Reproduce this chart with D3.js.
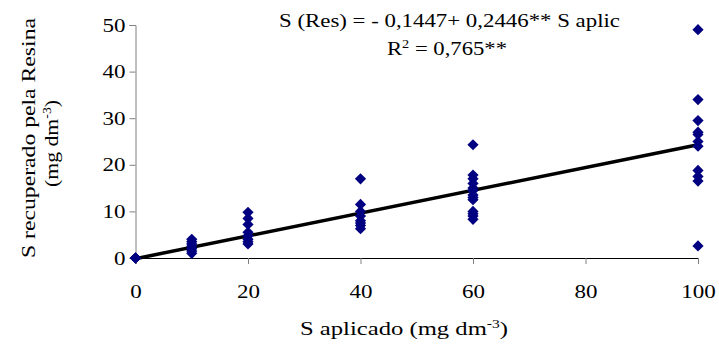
<!DOCTYPE html>
<html><head><meta charset="utf-8">
<script src="https://cdn.jsdelivr.net/npm/d3@7"></script>
<style>body{margin:0;background:#fff}svg{display:block}svg text{font-family:"Liberation Serif","Times New Roman",serif !important;fill:#000}</style>
</head><body><svg id="c" width="719" height="344"></svg>
<script>
const doses = [0, 10, 20, 40, 60, 100];
const obs0 = [0, 0, 0, 0];
const obs10 = [4.0, 3.5, 3.0, 2.5, 2.0, 1.5, 1.0];
const obs20 = [9.8, 8.5, 7.2, 5.5, 4.8, 4.0, 3.5, 3.0];
const obs40 = [17.0, 11.5, 10.0, 9.0, 8.0, 7.5, 7.0, 6.3];
const obs60 = [24.3, 17.8, 17.0, 16.0, 15.0, 14.5, 13.5, 13.0, 12.5, 10.0, 9.5, 9.0, 8.3];
const obs100 = [49.0, 34.0, 29.5, 27.0, 26.5, 25.0, 24.0, 18.8, 17.5, 16.5, 2.6];
const intercept = -0.1447, slope = 0.2446;
const xTicks = [0, 20, 40, 60, 80, 100];
const yTicks = [0, 10, 20, 30, 40, 50];

const groups = [obs0, obs10, obs20, obs40, obs60, obs100];
const points = [];
groups.forEach((g, i) => g.forEach(v => points.push({x: doses[i], y: v})));

const svg = d3.select("#c");
const x = d3.scaleLinear().domain([0, 100]).range([135.5, 698]);
const y = d3.scaleLinear().domain([0, 50]).range([258, 25]);

function stretch(sel) {
  sel.each(function() {
    const n = this.textContent.length;
    d3.select(this).attr("textLength", n * 11.5).attr("lengthAdjust", "spacingAndGlyphs");
  });
}

const ya = svg.append("g").attr("transform", "translate(135.5,0)")
  .call(d3.axisLeft(y).tickValues(yTicks).tickSize(6).tickPadding(4));
ya.attr("font-family", null).attr("font-size", null);
ya.select(".domain").attr("stroke", "#808080");
ya.selectAll(".tick line").attr("stroke", "#808080");
ya.selectAll("text").style("font-size", "19px").call(stretch);

const xa = svg.append("g").attr("transform", "translate(0,258)")
  .call(d3.axisBottom(x).tickValues(xTicks).tickSize(6).tickPadding(21));
xa.attr("font-family", null).attr("font-size", null);
xa.select(".domain").attr("stroke", "#000");
xa.selectAll(".tick line").attr("stroke", "#808080");
xa.selectAll("text").style("font-size", "19px").call(stretch);

svg.append("line")
  .attr("x1", x(0)).attr("y1", y(intercept))
  .attr("x2", x(100)).attr("y2", y(intercept + slope * 100))
  .attr("stroke", "#000").attr("stroke-width", 3.5);

svg.append("g").selectAll("path").data(points).join("path")
  .attr("d", d3.symbol(d3.symbolDiamond2, 80))
  .attr("transform", d => `translate(${x(d.x)},${y(d.y)})`)
  .attr("fill", "#000080");

svg.append("text").attr("x", 449.5).attr("y", 27).attr("text-anchor", "middle")
  .attr("textLength", 341).attr("lengthAdjust", "spacingAndGlyphs")
  .style("font-size", "19px").text("S (Res) = - 0,1447+ 0,2446** S aplic");

const r2 = svg.append("text").attr("x", 447).attr("y", 55).attr("text-anchor", "middle")
  .attr("textLength", 120).attr("lengthAdjust", "spacingAndGlyphs").style("font-size", "19px");
r2.append("tspan").text("R");
r2.append("tspan").attr("dy", -7).style("font-size", "12px").text("2");
r2.append("tspan").attr("dy", 7).text(" = 0,765**");

const xt = svg.append("text").attr("x", 404).attr("y", 335).attr("text-anchor", "middle")
  .attr("textLength", 208).attr("lengthAdjust", "spacingAndGlyphs").style("font-size", "19px");
xt.append("tspan").text("S aplicado (mg dm");
xt.append("tspan").attr("dy", -7).style("font-size", "12px").text("-3");
xt.append("tspan").attr("dy", 7).text(")");

const yt = svg.append("g").attr("transform", "rotate(-90)");
yt.append("text").attr("x", -138).attr("y", 35).attr("text-anchor", "middle")
  .attr("textLength", 240).attr("lengthAdjust", "spacingAndGlyphs")
  .style("font-size", "19px").text("S recuperado pela Resina");
const yt2 = yt.append("text").attr("x", -143.5).attr("y", 58).attr("text-anchor", "middle")
  .attr("textLength", 87).attr("lengthAdjust", "spacingAndGlyphs").style("font-size", "19px");
yt2.append("tspan").text("(mg dm");
yt2.append("tspan").attr("dy", -7).style("font-size", "12px").text("-3");
yt2.append("tspan").attr("dy", 7).text(")");
</script></body></html>
